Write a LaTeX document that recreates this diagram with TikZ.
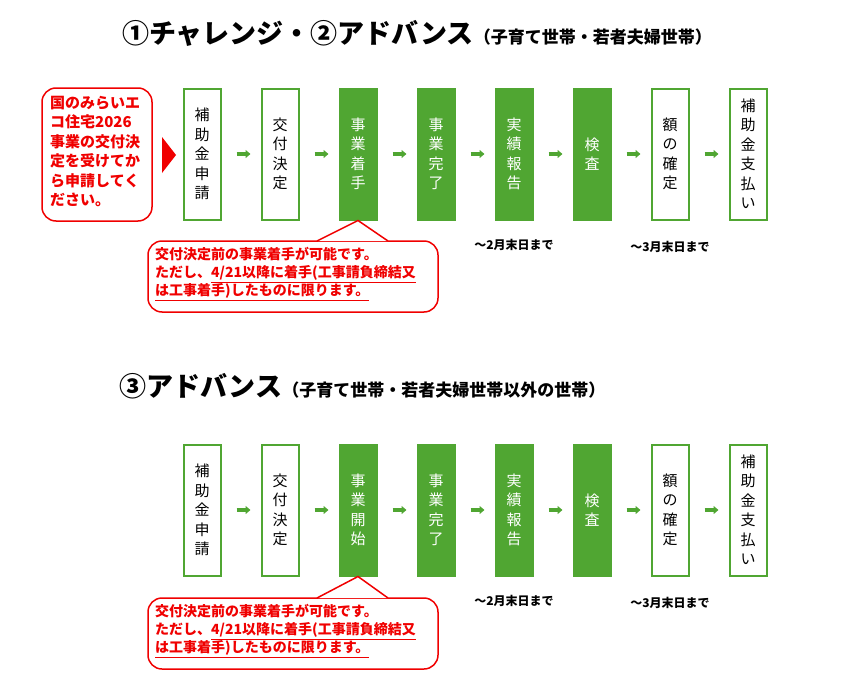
\documentclass[tikz,border=0pt]{standalone}
\usepackage{fontspec}
\setmainfont{Noto Sans CJK JP}
\usepackage{tikz}
\usetikzlibrary{positioning,arrows.meta}

\definecolor{flowgreen}{RGB}{80,166,50}
\definecolor{noticered}{RGB}{240,0,0}

\tikzset{
  openbox/.style={draw=flowgreen, line width=2pt, fill=white, minimum width=37pt, minimum height=131pt,
    inner sep=0pt, align=center, font=\fontsize{15}{19.5}\selectfont},
  fullbox/.style={openbox, fill=flowgreen, text=white},
  smallarrow/.style={-{Triangle[length=5pt,width=8pt]}, line width=3.5pt, flowgreen},
  callout/.style={draw=noticered, line width=1.5pt, fill=white, rounded corners=14pt},
  calltext/.style={text=noticered, font=\bfseries\fontsize{14}{18}\selectfont, align=left, anchor=north west, inner sep=0pt},
  duenote/.style={font=\bfseries\fontsize{12}{14}\selectfont, inner sep=0pt},
}

\newcommand{\redul}[1]{\underline{#1}}

\begin{document}
\begin{tikzpicture}[x=1pt,y=-1pt]
  \useasboundingbox (0,0) rectangle (868,680);

  % Titles
  \node (title1) at (417,33) {\bfseries\fontsize{27}{30}\selectfont ①チャレンジ・②アドバンス\fontsize{17}{20}\selectfont（子育て世帯・若者夫婦世帯）};
  \node[anchor=west] (title2) at (116,386) {\bfseries\fontsize{27}{30}\selectfont ③アドバンス\fontsize{17}{20}\selectfont（子育て世帯・若者夫婦世帯以外の世帯）};

  % Left notice and pointer
  \draw[callout] (42,88) rectangle (152,221);
  \node[calltext, font=\bfseries\fontsize{15}{19.5}\selectfont] (leftnote) at (50,96)
    {国のみらいエ\\コ住宅2026\\事業の交付決\\定を受けてか\\ら申請してく\\ださい。};
  \fill[noticered] (162,137) -- (176,155) -- (162,173) -- cycle;

  % Flow rows
  \foreach \row/\y/\start in {a/154/事\\業\\着\\手, b/510/事\\業\\開\\始}{
    \foreach \i/\txt/\kind in {1/補\\助\\金\\申\\請/openbox, 2/交\\付\\決\\定/openbox,
        3/\start/fullbox, 4/事\\業\\完\\了/fullbox, 5/実\\績\\報\\告/fullbox,
        6/検\\査/fullbox, 7/額\\の\\確\\定/openbox, 8/補\\助\\金\\支\\払\\い/openbox}{
      \node[\kind] (\row\i) at ({202+78*(\i-1)},\y) {\txt};
    }
    \foreach \i [evaluate=\i as \j using int(\i+1)] in {1,...,7}
      \draw[smallarrow] ([xshift=15pt]\row\i.east) -- ([xshift=-10pt]\row\j.west);
    \node[duenote, below=19pt of \row5.south] (\row due2) {～2月末日まで};
    \node[duenote, below=21pt of \row7.south] (\row due3) {～3月末日まで};
  }

  % Callouts under step 3
  \foreach \row/\top in {a/241, b/598}{
    \draw[callout] (148,\top) rectangle (438,\top+71);
    \fill[white] (318,\top) -- (\row3.south) -- (388,\top) -- cycle;
    \draw[noticered, line width=1.5pt] (317,\top) -- (\row3.south) -- (388,\top);
    \node[calltext] (\row note) at (155,\top+6)
      {交付決定前の事業着手が可能です。\\ただし、\redul{4/21以降に着手(工事請負締結又}\\\redul{は工事着手)したものに限ります。}};
  }
\end{tikzpicture}
\end{document}
